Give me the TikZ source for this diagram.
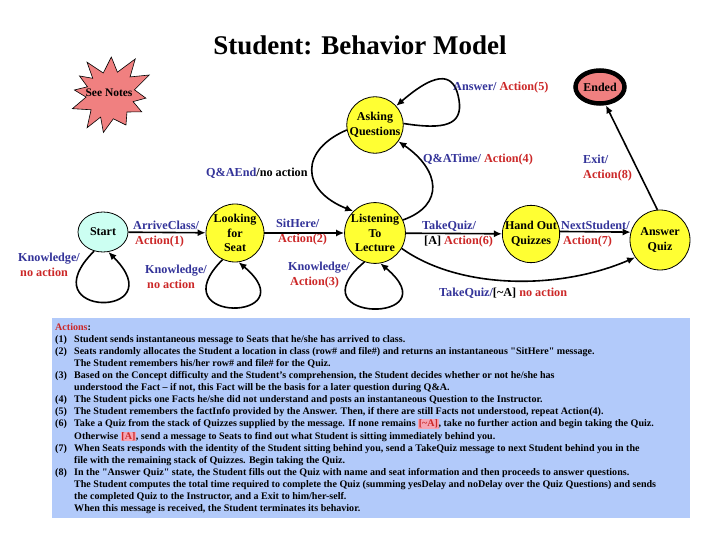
\documentclass[tikz,border=0pt]{standalone}
\usepackage{fontspec}
\setmainfont{Liberation Serif}
\usetikzlibrary{arrows.meta,shapes.geometric}
\definecolor{lblue}{RGB}{51,51,153}
\definecolor{lred}{RGB}{204,40,40}
\definecolor{styellow}{RGB}{255,255,51}
\definecolor{stcyan}{RGB}{204,255,242}
\definecolor{coral}{RGB}{240,128,128}
\definecolor{boxblue}{RGB}{178,202,250}
\definecolor{hlpink}{RGB}{245,165,180}
\newcommand{\actnum}[1]{\makebox[19pt][l]{#1}}
\newcommand{\actind}{\hspace*{19pt}}
\newcommand{\acthl}[1]{{\setlength{\fboxsep}{0.6pt}\colorbox{hlpink}{\textcolor{lred}{#1}}}}
\newcommand{\sq}{{\addfontfeature{Ligatures=TeXOff}"}}
\tikzset{
  state/.style={circle, draw, line width=0.8pt, fill=styellow, align=center, inner sep=0pt,
    font=\fontsize{12}{14.5}\selectfont\bfseries},
  edge/.style={line width=1.6pt, -{Latex[length=8pt,width=7pt]}},
  lbl/.style={font=\fontsize{12.2}{15}\selectfont\bfseries, align=left, inner sep=0pt, anchor=west},
  acttext/.style={font=\fontsize{10.05}{12.1}\selectfont\bfseries, align=left, inner sep=0pt}
}
\begin{document}
\begin{tikzpicture}[x=1pt,y=1pt]
\fill[white] (0,0) rectangle (720,-540);
\useasboundingbox (0,0) rectangle (720,-540);

\node[font=\fontsize{27}{30}\selectfont\bfseries] (title) at (360,-45) {Student: Behavior Model};

% See Notes starburst
\begin{scope}[shift={(110,-95)}]
\draw[fill=coral, line width=0.6pt] (125:40) -- (107:23) -- (88:38) -- (72:24) -- (55:44) -- (42:27) -- (27:44) -- (12:25)
  -- (-5:36) -- (-16:24) -- (-28:36) -- (-45:24) -- (-62:34) -- (-82:24) -- (-100:38) -- (-113:24) -- (-125:40)
  -- (-142:24) -- (-160:40) -- (-175:24) -- (172:36) -- (160:24) -- (148:36) -- (136:24) -- cycle;
\end{scope}
\node[font=\fontsize{11.5}{13}\selectfont\bfseries, inner sep=0pt] (notes) at (109,-93) {See Notes};

% states
\node[state, ellipse, fill=stcyan, minimum width=50, minimum height=40] (start) at (103,-232) {Start};
\node[state, minimum size=58] (look) at (235,-233) {Looking\\for\\Seat};
\node[state, minimum size=56] (listen) at (375,-233) {Listening\\To\\Lecture};
\node[state, minimum size=56] (ask) at (375,-125) {Asking\\Questions};
\node[state, minimum size=57] (hand) at (531,-234) {Hand Out\\Quizzes};
\node[state, minimum size=60] (answer) at (660,-240) {Answer\\Quiz};
\node[state, ellipse, fill=coral, line width=4.5pt, minimum width=49, minimum height=33] (ended) at (600,-87) {Ended};

% transitions
\draw[edge] (start) -- (look);
\draw[edge] (look) -- (listen);
\draw[edge] (listen) -- (hand);
\draw[edge] (hand.5) -- (answer.165);
\draw[edge] (answer.95) -- (ended.-72);
\draw[edge] (listen.-30) .. controls (460,-290) and (560,-290) .. (answer.215);
\draw[edge] (listen.25) .. controls (445,-205) and (440,-170) .. (ask.-35);
\draw[edge] (ask.190) .. controls (300,-150) and (300,-190) .. (listen.135);
\draw[edge] (ask.3) .. controls (445,-130) and (463,-125) .. (459,-100) .. controls (455,-75) and (440,-68) .. (ask.42);
\draw[edge] (start.245) to[out=225,in=315,distance=95] (start.285);
\draw[edge] (look.245) to[out=225,in=320,distance=92] (look.277);
\draw[edge] (listen.250) to[out=220,in=320,distance=95] (listen.280);

% labels
\node[lbl] (l1) at (133,-234.5) {\textcolor{lblue}{ArriveClass/}\\\textcolor{lred}{\,Action(1)}};
\node[lbl] (l2) at (276,-232.5) {\textcolor{lblue}{SitHere/}\\\textcolor{lred}{\,Action(2)}};
\node[lbl] (l6) at (422,-234) {\textcolor{lblue}{TakeQuiz/}\\\,[A] \textcolor{lred}{Action(6)}};
\node[lbl] (l7) at (561,-234.5) {\textcolor{lblue}{NextStudent/}\\\,\textcolor{lred}{Action(7)}};
\node[lbl] (lna) at (439,-293) {\textcolor{lblue}{TakeQuiz/}[\textasciitilde A] \textcolor{lred}{no action}};
\node[lbl] (lqe) at (206,-173) {\textcolor{lblue}{Q\&AEnd}/no action};
\node[lbl] (lqt) at (423,-160) {\textcolor{lblue}{Q\&ATime/} \textcolor{lred}{Action(4)}};
\node[lbl] (la5) at (453,-88) {\textcolor{lblue}{Answer/} \textcolor{lred}{Action(5)}};
\node[lbl] (l8) at (583,-168) {\textcolor{lblue}{Exit/}\\\textcolor{lred}{Action(8)}};
\node[lbl] (lk1) at (18,-264.5) {\textcolor{lblue}{Knowledge/}\\\textcolor{lred}{\,no action}};
\node[lbl] (lk2) at (145,-276.5) {\textcolor{lblue}{Knowledge/}\\\textcolor{lred}{\,no action}};
\node[lbl] (lk3) at (288,-275.5) {\textcolor{lblue}{Knowledge/}\\\textcolor{lred}{\,Action(3)}};

% actions box
\node[fill=boxblue, minimum width=638, minimum height=200, anchor=north west, inner sep=0pt] (box) at (52,-318) {};
\node[acttext, anchor=north west] (acts) at (55,-323) {%
\textcolor{lred}{Actions}:\\
\actnum{(1)}Student sends instantaneous message to Seats that he/she has arrived to class.\\
\actnum{(2)}Seats randomly allocates the Student a location in class (row\# and file\#) and returns an instantaneous \sq SitHere\sq{} message.\\
\actind The Student remembers his/her row\# and file\# for the Quiz.\\
\actnum{(3)}Based on the Concept difficulty and the Student's comprehension, the Student decides whether or not he/she has\\
\actind understood the Fact – if not, this Fact will be the basis for a later question during Q\&A.\\
\actnum{(4)}The Student picks one Facts he/she did not understand and posts an instantaneous Question to the Instructor.\\
\actnum{(5)}The Student remembers the factInfo provided by the Answer. Then, if there are still Facts not understood, repeat Action(4).\\
\actnum{(6)}Take a Quiz from the stack of Quizzes supplied by the message. If none remains \acthl{[\textasciitilde A]}, take no further action and begin taking the Quiz.\\
\actind Otherwise \acthl{[A]}, send a message to Seats to find out what Student is sitting immediately behind you.\\
\actnum{(7)}When Seats responds with the identity of the Student sitting behind you, send a TakeQuiz message to next Student behind you in the\\
\actind file with the remaining stack of Quizzes. Begin taking the Quiz.\\
\actnum{(8)}In the \sq Answer Quiz\sq{} state, the Student fills out the Quiz with name and seat information and then proceeds to answer questions.\\
\actind The Student computes the total time required to complete the Quiz (summing yesDelay and noDelay over the Quiz Questions) and sends\\
\actind the completed Quiz to the Instructor, and a Exit to him/her-self.\\
\actind When this message is received, the Student terminates its behavior.};
\end{tikzpicture}
\end{document}
